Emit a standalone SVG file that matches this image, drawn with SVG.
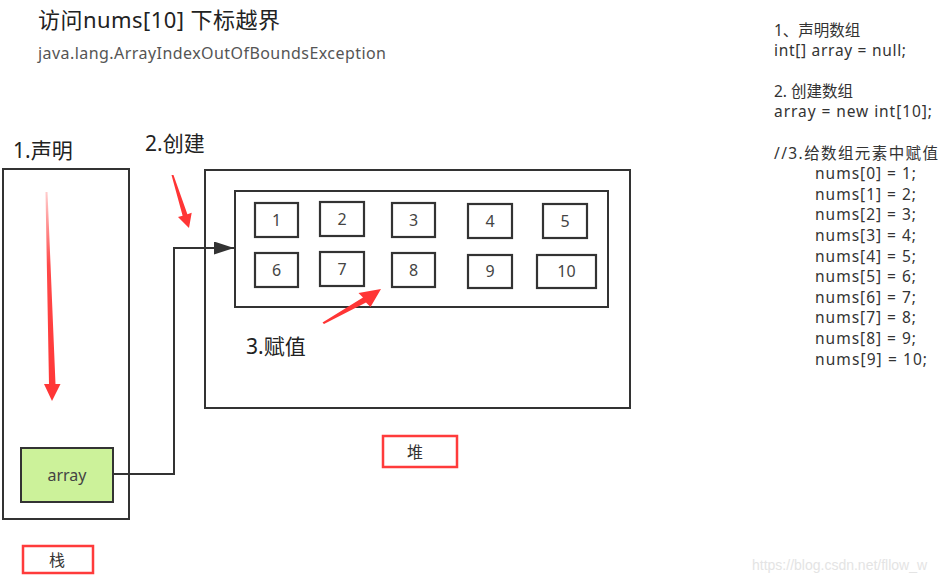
<svg xmlns="http://www.w3.org/2000/svg" width="950" height="576" viewBox="0 0 950 576">
<defs>
<style>
.box{fill:#fff;stroke:#333;stroke-width:2}
.cell{fill:#fff;stroke:#333;stroke-width:2.2}
.lbl{font-family:"Noto Sans","Noto Sans CJK SC",sans-serif;fill:#222}
.num{font-family:"Noto Sans","Noto Sans CJK SC",sans-serif;font-size:16px;fill:#444;text-anchor:middle}
.code{font-family:"Noto Sans","Noto Sans CJK SC",sans-serif;font-size:15.5px;fill:#333}
.red{fill:#ff3535}
.tag{fill:#fff;stroke:#ff3b3b;stroke-width:2.5}
.conn{fill:none;stroke:#333;stroke-width:2}
</style>
<linearGradient id="fade" x1="0" y1="192" x2="0" y2="401" gradientUnits="userSpaceOnUse">
<stop offset="0" stop-color="#ff3535" stop-opacity="0.25"/>
<stop offset="0.35" stop-color="#ff3535" stop-opacity="0.9"/>
<stop offset="1" stop-color="#ff3535"/>
</linearGradient>
<marker id="arr" viewBox="0 0 20 13" refX="20" refY="6.5" markerWidth="20" markerHeight="13" markerUnits="userSpaceOnUse" orient="auto">
<path d="M0,0 L20,6.5 L0,13 z" fill="#333"/>
</marker>
</defs>
<rect width="950" height="576" fill="#fff"/>

<g id="title">
<text class="lbl" x="38" y="28" font-size="22" textLength="242" lengthAdjust="spacing">访问nums[10] 下标越界</text>
<text class="lbl" x="38" y="59" font-size="16" style="fill:#555" textLength="348" lengthAdjust="spacing">java.lang.ArrayIndexOutOfBoundsException</text>
</g>

<g id="stack">
<rect class="box" x="3" y="169" width="126" height="350"/>
<text class="lbl" x="13" y="158" font-size="21">1.声明</text>
</g>

<g id="heap">
<rect class="box" x="205" y="170" width="425" height="238"/>
<text class="lbl" x="145" y="151" font-size="21">2.创建</text>
<text class="lbl" x="246" y="354" font-size="21">3.赋值</text>
</g>

<g id="array-object">
<rect class="box" x="235" y="191" width="373" height="116"/>
</g>

<g id="cells">
<g id="c1"><rect class="cell" x="255" y="203" width="43" height="34"/><text class="num" x="276.5" y="226">1</text></g>
<g id="c2"><rect class="cell" x="320" y="202" width="44" height="34"/><text class="num" x="342" y="225">2</text></g>
<g id="c3"><rect class="cell" x="392" y="203" width="43" height="34"/><text class="num" x="413.5" y="226">3</text></g>
<g id="c4"><rect class="cell" x="468" y="204" width="44" height="34"/><text class="num" x="490" y="227">4</text></g>
<g id="c5"><rect class="cell" x="543" y="204" width="44" height="34"/><text class="num" x="565" y="227">5</text></g>
<g id="c6"><rect class="cell" x="255" y="253" width="43" height="34"/><text class="num" x="276.5" y="276">6</text></g>
<g id="c7"><rect class="cell" x="320" y="252" width="44" height="34"/><text class="num" x="342" y="275">7</text></g>
<g id="c8"><rect class="cell" x="392" y="253" width="43" height="34"/><text class="num" x="413.5" y="276">8</text></g>
<g id="c9"><rect class="cell" x="468" y="255" width="44" height="33"/><text class="num" x="490" y="277">9</text></g>
<g id="c10"><rect class="cell" x="537" y="255" width="59" height="33"/><text class="num" x="566.5" y="277">10</text></g>
</g>

<g id="array-var">
<rect x="21" y="448" width="92" height="54" fill="#ccf29a" stroke="#333" stroke-width="2"/>
<text class="num" x="67" y="481">array</text>
</g>

<g id="connectors">
<polyline class="conn" points="113,474 174,474 174,248 234,248" marker-end="url(#arr)"/>
</g>

<g id="red-arrows">
<polygon points="45.5,192 47.5,192 55.5,384 60.5,384 52,401 44,384 49,384" fill="url(#fade)"/>
<polygon class="red" points="171.5,175 173.5,175 187.4,214.2 191.7,212.8 189,228 178,217 182.6,215.8"/>
<polygon class="red" points="322.5,322.5 324,324 366,302.5 370.5,307 381,289 358.5,293 363,297.5"/>
</g>

<g id="tag-heap">
<rect class="tag" x="383" y="436" width="74" height="31"/>
<text class="lbl" x="415" y="458" font-size="16" text-anchor="middle" style="fill:#333">堆</text>
</g>
<g id="tag-stack">
<rect class="tag" x="23" y="546" width="70" height="27"/>
<text class="lbl" x="57" y="566" font-size="16" text-anchor="middle" style="fill:#333">栈</text>
</g>

<g id="code">
<text class="code" x="774" y="36">1、声明数组</text>
<text class="code" x="774" y="56" textLength="132" lengthAdjust="spacing">int[] array = null;</text>
<text class="code" x="774" y="97">2. 创建数组</text>
<text class="code" x="774" y="117" textLength="158" lengthAdjust="spacing">array = new int[10];</text>
<text class="code" x="774" y="159" textLength="164" lengthAdjust="spacing">//3.给数组元素中赋值</text>
<text class="code" x="815" y="179" textLength="101" lengthAdjust="spacing">nums[0] = 1;</text>
<text class="code" x="815" y="200" textLength="101" lengthAdjust="spacing">nums[1] = 2;</text>
<text class="code" x="815" y="220" textLength="101" lengthAdjust="spacing">nums[2] = 3;</text>
<text class="code" x="815" y="241" textLength="101" lengthAdjust="spacing">nums[3] = 4;</text>
<text class="code" x="815" y="262" textLength="101" lengthAdjust="spacing">nums[4] = 5;</text>
<text class="code" x="815" y="282" textLength="101" lengthAdjust="spacing">nums[5] = 6;</text>
<text class="code" x="815" y="303" textLength="101" lengthAdjust="spacing">nums[6] = 7;</text>
<text class="code" x="815" y="323" textLength="101" lengthAdjust="spacing">nums[7] = 8;</text>
<text class="code" x="815" y="344" textLength="101" lengthAdjust="spacing">nums[8] = 9;</text>
<text class="code" x="815" y="365" textLength="112" lengthAdjust="spacing">nums[9] = 10;</text>
</g>

<text x="752" y="570" font-family="Liberation Sans, sans-serif" font-size="14" fill="#e4e4e4">https://blog.csdn.net/fllow_w</text>
</svg>
